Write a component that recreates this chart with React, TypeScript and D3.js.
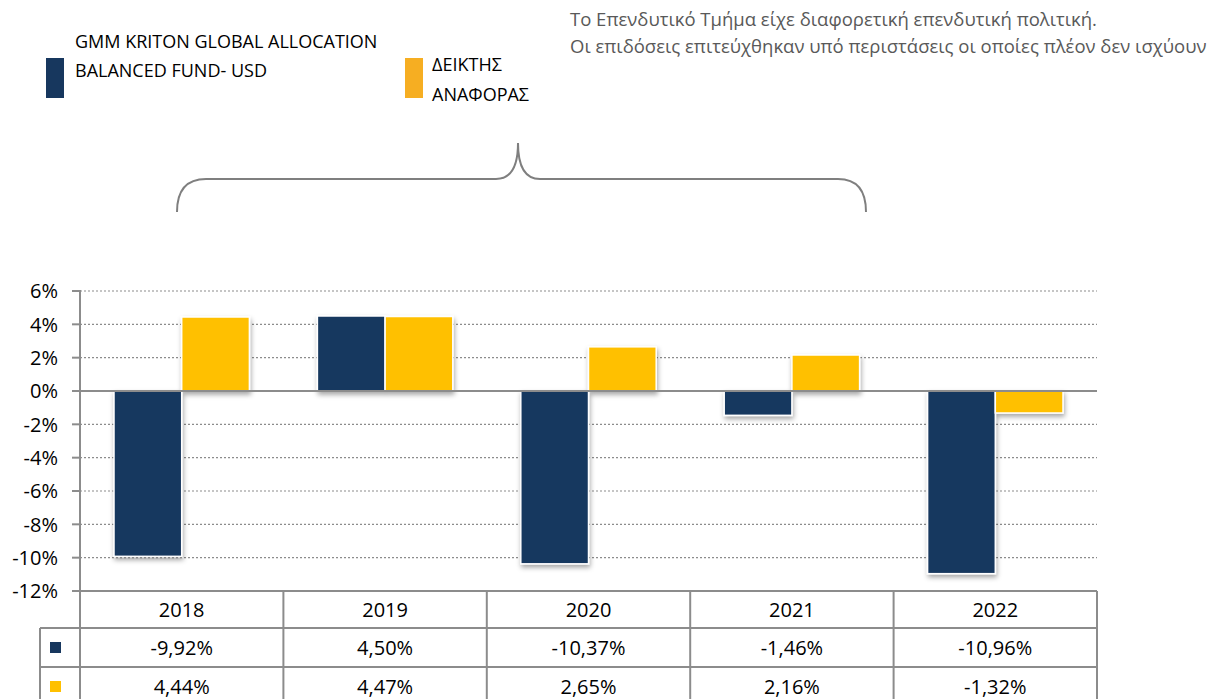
import React, { useEffect, useRef } from 'react';
import * as d3 from 'd3';

const years = ['2018', '2019', '2020', '2021', '2022'];
const fundValues = [-9.92, 4.5, -10.37, -1.46, -10.96];
const indexValues = [4.44, 4.47, 2.65, 2.16, -1.32];
const yTicks = [6, 4, 2, 0, -2, -4, -6, -8, -10, -12];
const seriesNames = ['GMM KRITON GLOBAL ALLOCATION BALANCED FUND- USD', 'ΔΕΙΚΤΗΣ ΑΝΑΦΟΡΑΣ'];
const noteLines = [
  'Το Επενδυτικό Τμήμα είχε διαφορετική επενδυτική πολιτική.',
  'Οι επιδόσεις επιτεύχθηκαν υπό περιστάσεις οι οποίες πλέον δεν ισχύουν',
];

const NAVY = '#17375e';
const GOLD = '#ffc000';
const GRID = '#8c8c8c';
const FONT = "'Open Sans', 'Noto Sans', sans-serif";

// comma decimals, plain hyphen for negatives
const fmt = (v: number) => d3.format('.2f')(v).replace('.', ',').replace('\u2212', '-') + '%';

export default function App() {
  const ref = useRef<SVGSVGElement>(null);

  useEffect(() => {
    const svg = d3.select(ref.current);
    svg.selectAll('*').remove();

    const left = 80, right = 1097, top = 291, bottom = 591;
    const x = d3.scaleBand().domain(years).range([left, right]);
    const inner = d3.scaleBand().domain(['fund', 'index']).range([34, x.bandwidth() - 34]);
    const y = d3.scaleLinear().domain([-12, 6]).range([bottom, top]);

    // shadow for bars
    const defs = svg.append('defs');
    defs.append('filter').attr('id', 'shadow').attr('x', '-20%').attr('y', '-20%')
      .attr('width', '140%').attr('height', '140%')
      .append('feDropShadow')
      .attr('dx', 1).attr('dy', 3).attr('stdDeviation', 2.5)
      .attr('flood-color', '#000').attr('flood-opacity', 0.35);

    // legend
    const lg = svg.append('g').style('font-family', FONT).style('font-size', '18px').attr('fill', '#000');
    lg.append('rect').attr('x', 46).attr('y', 58).attr('width', 18).attr('height', 40).attr('fill', NAVY);
    lg.append('text').attr('x', 75).attr('y', 48).text('GMM KRITON GLOBAL ALLOCATION');
    lg.append('text').attr('x', 75).attr('y', 77).text('BALANCED FUND- USD');
    lg.append('rect').attr('x', 405).attr('y', 58).attr('width', 18).attr('height', 40).attr('fill', '#f6ae22');
    lg.append('text').attr('x', 432).attr('y', 71).text('ΔΕΙΚΤΗΣ');
    lg.append('text').attr('x', 432).attr('y', 101).text('ΑΝΑΦΟΡΑΣ');

    // note
    svg.append('g').style('font-family', FONT).style('font-size', '18.5px').attr('fill', '#595959')
      .selectAll('text').data(noteLines).join('text')
      .attr('x', 570).attr('y', (_, i) => 26 + i * 27).text(d => d);

    // brace
    svg.append('path')
      .attr('d', 'M177,212 C177,190 186,179 206,179 L496,179 C511,179 518,166 518,143 C518,166 525,179 540,179 L838,179 C857,179 866,190 866,212')
      .attr('fill', 'none').attr('stroke', '#7f7f7f').attr('stroke-width', 2);

    // gridlines
    svg.append('g').selectAll('line').data(yTicks.filter(t => t !== 0 && t !== -12)).join('line')
      .attr('x1', left).attr('x2', right).attr('y1', d => y(d)).attr('y2', d => y(d))
      .attr('stroke', GRID).attr('stroke-width', 1.2).attr('stroke-dasharray', '2,2');

    // y axis labels and ticks
    const ax = svg.append('g');
    ax.selectAll('line').data(yTicks).join('line')
      .attr('x1', left - 8).attr('x2', left).attr('y1', d => y(d)).attr('y2', d => y(d))
      .attr('stroke', GRID).attr('stroke-width', 2);
    ax.selectAll('text').data(yTicks).join('text')
      .attr('x', 58).attr('y', d => y(d)).attr('dy', '0.36em').attr('text-anchor', 'end')
      .style('font-family', FONT).style('font-size', '20px').attr('fill', '#000')
      .text(d => d + '%');

    // bars
    const bars = years.flatMap((yr, i) => [
      { yr, key: 'fund', v: fundValues[i], c: NAVY },
      { yr, key: 'index', v: indexValues[i], c: GOLD },
    ]);
    svg.append('g').attr('filter', 'url(#shadow)').selectAll('rect').data(bars).join('rect')
      .attr('x', d => (x(d.yr) as number) + (inner(d.key) as number))
      .attr('width', inner.bandwidth())
      .attr('y', d => y(Math.max(0, d.v)))
      .attr('height', d => Math.abs(y(d.v) - y(0)))
      .attr('fill', d => d.c).attr('stroke', '#fff').attr('stroke-width', 1.5);

    // zero line
    svg.append('line').attr('x1', left - 8).attr('x2', right).attr('y1', y(0)).attr('y2', y(0))
      .attr('stroke', GRID).attr('stroke-width', 2);

    // data table
    const r0 = bottom, r1 = 628, r2 = 667, r3 = 706;
    const tb = svg.append('g').attr('stroke', GRID).attr('stroke-width', 2);
    tb.append('line').attr('x1', left - 8).attr('x2', right).attr('y1', r0).attr('y2', r0);
    [r1, r2].forEach(ry => tb.append('line').attr('x1', 40).attr('x2', right).attr('y1', ry).attr('y2', ry));
    tb.append('line').attr('x1', 40).attr('x2', 40).attr('y1', r1).attr('y2', r3);
    tb.append('line').attr('x1', left).attr('x2', left).attr('y1', top - 1).attr('y2', r3);
    tb.selectAll('line.v').data(years).join('line').attr('class', 'v')
      .attr('x1', d => (x(d) as number) + x.bandwidth()).attr('x2', d => (x(d) as number) + x.bandwidth())
      .attr('y1', r0).attr('y2', r3);

    const tt = svg.append('g').style('font-family', FONT).style('font-size', '20px')
      .attr('fill', '#000').attr('text-anchor', 'middle');
    const cx = (d: string) => (x(d) as number) + x.bandwidth() / 2;
    tt.selectAll('text.h').data(years).join('text').attr('class', 'h')
      .attr('x', cx).attr('y', (r0 + r1) / 2).attr('dy', '0.36em').text(d => d);
    tt.selectAll('text.f').data(years).join('text').attr('class', 'f')
      .attr('x', cx).attr('y', (r1 + r2) / 2).attr('dy', '0.36em').text((_, i) => fmt(fundValues[i]));
    tt.selectAll('text.g').data(years).join('text').attr('class', 'g')
      .attr('x', cx).attr('y', (r2 + r3) / 2).attr('dy', '0.36em').text((_, i) => fmt(indexValues[i]));

    // table legend keys
    svg.append('g').selectAll('rect').data([NAVY, GOLD]).join('rect')
      .attr('x', 50).attr('y', (_, i) => (i === 0 ? (r1 + r2) / 2 : (r2 + r3) / 2) - 5.5)
      .attr('width', 11).attr('height', 11).attr('fill', d => d)
      .append('title').text((_, i) => seriesNames[i]);
  }, []);

  return (
    <svg ref={ref} width={1210} height={699}
      style={{ position: 'absolute', left: 0, top: 0, background: '#fff' }} />
  );
}
